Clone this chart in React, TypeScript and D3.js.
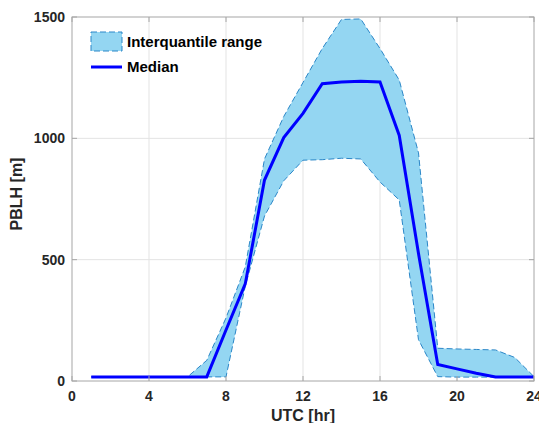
import React, { useEffect, useRef } from 'react';
import * as d3 from 'd3';

// hourly PBLH statistics (m)
const hours = [1, 2, 3, 4, 5, 6, 7, 8, 9, 10, 11, 12, 13, 14, 15, 16, 17, 18, 19, 20, 21, 22, 23, 24];
const median = [17, 17, 17, 17, 17, 17, 17, 210, 400, 828, 1003, 1103, 1225, 1232, 1235, 1232, 1012, 525, 68, 50, 32, 17, 17, 17];
const q25 = [17, 17, 17, 17, 17, 17, 17, 17, 390, 680, 825, 910, 912, 918, 915, 820, 746, 170, 18, 16, 16, 16, 16, 16];
const q75 = [17, 17, 17, 17, 17, 17, 85, 260, 470, 915, 1090, 1230, 1370, 1490, 1492, 1370, 1240, 940, 135, 132, 130, 128, 97, 18];

const xTicks = [0, 4, 8, 12, 16, 20, 24];
const yTicks = [0, 500, 1000, 1500];

const App = () => {
    const svgRef = useRef(null);

    useEffect(() => {
        const svg = d3.select(svgRef.current);
        svg.selectAll("*").remove();

        const W = 539, H = 423;
        const margin = { top: 17, right: 5, bottom: 42, left: 72 };
        const width = W - margin.left - margin.right;
        const height = H - margin.top - margin.bottom;
        const font = "'Liberation Sans', Arial, Helvetica, sans-serif";

        const x = d3.scaleLinear().domain([0, 24]).range([0, width]);
        const y = d3.scaleLinear().domain([0, 1500]).range([height, 0]);

        const g = svg.append("g").attr("transform", `translate(${margin.left},${margin.top})`);

        // grid
        g.append("g")
            .selectAll("line")
            .data(xTicks.slice(1, -1))
            .enter()
            .append("line")
            .attr("x1", d => x(d)).attr("x2", d => x(d))
            .attr("y1", 0).attr("y2", height)
            .attr("stroke", "#e3e3e3");
        g.append("g")
            .selectAll("line")
            .data(yTicks.slice(1, -1))
            .enter()
            .append("line")
            .attr("y1", d => y(d)).attr("y2", d => y(d))
            .attr("x1", 0).attr("x2", width)
            .attr("stroke", "#e3e3e3");

        // interquartile band
        const rows = hours.map((h, i) => ({ h, lo: q25[i], hi: q75[i], m: median[i] }));
        const area = d3.area()
            .x(d => x(d.h))
            .y0(d => y(d.lo))
            .y1(d => y(d.hi));
        g.append("path")
            .datum(rows)
            .attr("d", area)
            .attr("fill", "#94d6f2")
            .attr("stroke", "#2b87c8")
            .attr("stroke-width", 1)
            .attr("stroke-dasharray", "6,3");

        // median
        g.append("path")
            .datum(rows)
            .attr("fill", "none")
            .attr("stroke", "#0000ff")
            .attr("stroke-width", 3)
            .attr("d", d3.line().x(d => x(d.h)).y(d => y(d.m)));

        // box
        g.append("rect")
            .attr("x", 0).attr("y", 0)
            .attr("width", width).attr("height", height)
            .attr("fill", "none")
            .attr("stroke", "#a6a6a6");

        // ticks (inward)
        xTicks.forEach(t => {
            g.append("line").attr("x1", x(t)).attr("x2", x(t)).attr("y1", height).attr("y2", height - 5).attr("stroke", "#a6a6a6");
            g.append("line").attr("x1", x(t)).attr("x2", x(t)).attr("y1", 0).attr("y2", 5).attr("stroke", "#a6a6a6");
        });
        yTicks.forEach(t => {
            g.append("line").attr("x1", 0).attr("x2", 5).attr("y1", y(t)).attr("y2", y(t)).attr("stroke", "#a6a6a6");
            g.append("line").attr("x1", width).attr("x2", width - 5).attr("y1", y(t)).attr("y2", y(t)).attr("stroke", "#a6a6a6");
        });

        // tick labels
        g.append("g")
            .selectAll("text")
            .data(xTicks)
            .enter()
            .append("text")
            .attr("x", d => x(d))
            .attr("y", height + 20)
            .attr("text-anchor", "middle")
            .style("font-family", font)
            .style("font-size", "14px")
            .style("font-weight", "bold")
            .style("fill", "#262626")
            .text(d => d);
        g.append("g")
            .selectAll("text")
            .data(yTicks)
            .enter()
            .append("text")
            .attr("x", -7)
            .attr("y", d => y(d) + 5)
            .attr("text-anchor", "end")
            .style("font-family", font)
            .style("font-size", "14px")
            .style("font-weight", "bold")
            .style("fill", "#262626")
            .text(d => d);

        // axis labels
        g.append("text")
            .attr("x", width / 2)
            .attr("y", height + 40)
            .attr("text-anchor", "middle")
            .style("font-family", font)
            .style("font-size", "16px")
            .style("font-weight", "bold")
            .style("fill", "#262626")
            .text("UTC [hr]");
        g.append("text")
            .attr("transform", "rotate(-90)")
            .attr("x", -height / 2 + 5)
            .attr("y", -50)
            .attr("text-anchor", "middle")
            .style("font-family", font)
            .style("font-size", "16px")
            .style("font-weight", "bold")
            .style("fill", "#262626")
            .text("PBLH [m]");

        // legend
        const legend = svg.append("g").attr("transform", "translate(91,32)");
        legend.append("rect")
            .attr("width", 31).attr("height", 19)
            .attr("fill", "#94d6f2")
            .attr("stroke", "#2b87c8")
            .attr("stroke-dasharray", "6,3");
        legend.append("text")
            .attr("x", 36).attr("y", 15)
            .style("font-family", font)
            .style("font-size", "15px")
            .style("font-weight", "bold")
            .style("fill", "#000")
            .text("Interquantile range");
        legend.append("line")
            .attr("x1", 0).attr("x2", 31)
            .attr("y1", 35).attr("y2", 35)
            .attr("stroke", "#0000ff")
            .attr("stroke-width", 3);
        legend.append("text")
            .attr("x", 36).attr("y", 40)
            .style("font-family", font)
            .style("font-size", "15px")
            .style("font-weight", "bold")
            .style("fill", "#000")
            .text("Median");
    }, []);

    return (
        <div style={{ position: 'absolute', left: 0, top: 0 }}>
            <svg ref={svgRef} width={539} height={423} style={{ display: 'block', background: '#fff' }}></svg>
        </div>
    );
};

export default App;
